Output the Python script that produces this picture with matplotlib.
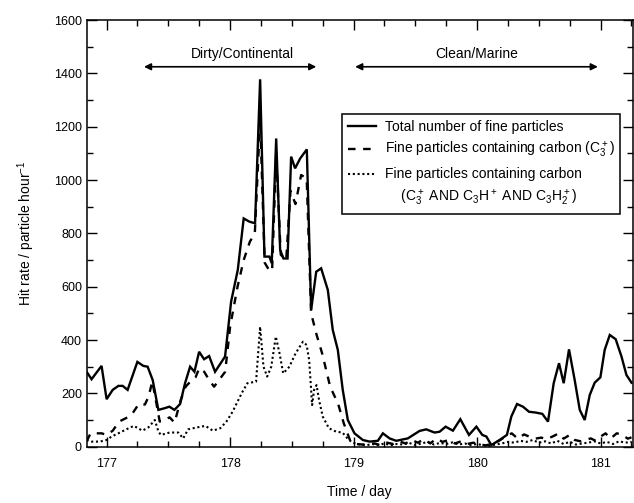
import matplotlib
matplotlib.use('Agg')
import matplotlib.pyplot as plt
from matplotlib.lines import Line2D
from matplotlib.ticker import MultipleLocator

plt.rcParams['font.family'] = ['Liberation Sans', 'DejaVu Sans']
plt.rcParams['mathtext.default'] = 'regular'

# total number of fine particles
total_day = [176.838, 176.878, 176.959, 177.000, 177.049, 177.095, 177.130, 177.170, 177.249, 177.297,
             177.332, 177.373, 177.419, 177.468, 177.508, 177.549, 177.595, 177.635, 177.676, 177.711,
             177.749, 177.789, 177.830, 177.878, 177.959, 178.008, 178.062, 178.110, 178.156, 178.202,
             178.243, 178.278, 178.318, 178.337, 178.373, 178.405, 178.432, 178.465, 178.494, 178.526,
             178.567, 178.621, 178.656, 178.697, 178.737, 178.791, 178.831, 178.872, 178.912, 178.953,
             179.007, 179.075, 179.129, 179.196, 179.237, 179.291, 179.345, 179.439, 179.534, 179.588,
             179.655, 179.696, 179.745, 179.804, 179.864, 179.934, 179.994, 180.042, 180.075, 180.115,
             180.182, 180.241, 180.277, 180.323, 180.371, 180.420, 180.474, 180.528, 180.574, 180.620,
             180.663, 180.701, 180.744, 180.790, 180.831, 180.871, 180.912, 180.952, 180.998, 181.033,
             181.074, 181.122, 181.169, 181.209, 181.250]
total_rate = [281, 253, 303, 178, 213, 228, 228, 213, 318, 303,
              300, 250, 138, 144, 150, 138, 160, 238, 300, 281,
              356, 328, 340, 281, 338, 544, 663, 856, 844, 838,
              1378, 713, 713, 688, 1156, 738, 706, 706, 1088, 1044,
              1081, 1115, 513, 656, 669, 588, 438, 363, 213, 100,
              50, 25, 19, 22, 50, 31, 22, 31, 59, 65,
              53, 56, 75, 60, 103, 44, 75, 44, 38, 6,
              25, 44, 113, 160, 150, 131, 128, 123, 94, 238,
              313, 238, 365, 250, 138, 100, 194, 240, 260, 363,
              419, 403, 338, 269, 240]

# fine particles containing carbon (C3+)
c3_day = [176.838, 176.87, 176.96, 177.0, 177.05, 177.10, 177.17, 177.21, 177.26, 177.31,
          177.34, 177.37, 177.40, 177.43, 177.47, 177.51, 177.55, 177.60, 177.64, 177.68,
          177.72, 177.75, 177.79, 177.83, 177.87, 177.92, 177.96, 178.00, 178.06, 178.11,
          178.16, 178.20, 178.243, 178.28, 178.318, 178.34, 178.373, 178.41, 178.454, 178.489,
          178.529, 178.575, 178.62, 178.656, 178.70, 178.745, 178.81, 178.875, 178.92, 178.97,
          179.02, 179.07, 179.12, 179.17, 179.22, 179.27, 179.32, 179.37, 179.42, 179.47,
          179.52, 179.57, 179.62, 179.67, 179.72, 179.77, 179.82, 179.87, 179.92, 179.97,
          180.02, 180.07, 180.12, 180.17, 180.22, 180.28, 180.33, 180.38, 180.42, 180.47,
          180.52, 180.56, 180.62, 180.66, 180.70, 180.75, 180.79, 180.84, 180.88, 180.92,
          180.96, 181.0, 181.04, 181.08, 181.13, 181.17, 181.22, 181.25]
c3_rate = [20, 50, 50, 44, 60, 94, 110, 125, 160, 158,
           188, 245, 170, 94, 100, 110, 90, 175, 225, 245,
           260, 294, 281, 250, 225, 256, 281, 450, 600, 700,
           769, 800, 1230, 690, 660, 660, 1100, 720, 700, 960,
           910, 1019, 1006, 500, 420, 350, 225, 160, 88, 25,
           10, 8, 10, 12, 5, 15, 10, 20, 12, 25,
           15, 28, 12, 30, 18, 25, 12, 20, 10, 15,
           8, 5, 10, 20, 35, 50, 30, 46, 38, 30,
           34, 28, 40, 50, 30, 44, 25, 20, 25, 31,
           22, 38, 50, 30, 50, 46, 30, 35]

# fine particles containing carbon (C3+ AND C3H+ AND C3H2+)
c3h_day = [176.838, 176.878, 176.945, 177.0, 177.04, 177.095, 177.16, 177.22, 177.29, 177.34,
           177.39, 177.42, 177.44, 177.51, 177.58, 177.62, 177.66, 177.74, 177.80, 177.86,
           177.92, 177.97, 178.02, 178.06, 178.10, 178.14, 178.21, 178.243, 178.27, 178.30,
           178.333, 178.37, 178.40, 178.43, 178.48, 178.53, 178.59, 178.62, 178.64, 178.664,
           178.68, 178.70, 178.72, 178.75, 178.80, 178.86, 178.91, 178.95, 178.99, 179.05,
           179.1, 179.15, 179.2, 179.25, 179.3, 179.35, 179.4, 179.45, 179.5, 179.55,
           179.6, 179.65, 179.7, 179.75, 179.8, 179.85, 179.9, 179.95, 180.0, 180.05,
           180.1, 180.15, 180.2, 180.25, 180.3, 180.35, 180.4, 180.45, 180.5, 180.55,
           180.6, 180.65, 180.7, 180.75, 180.8, 180.85, 180.9, 180.95, 181.0, 181.05,
           181.1, 181.15, 181.2, 181.25]
c3h_rate = [25, 19, 19, 25, 38, 50, 65, 78, 60, 73,
            100, 56, 44, 53, 53, 31, 65, 73, 78, 60,
            69, 94, 131, 169, 206, 238, 244, 450, 300, 263,
            300, 413, 350, 275, 300, 350, 394, 381, 325, 156,
            213, 231, 175, 113, 69, 56, 53, 31, 15, 8,
            5, 10, 6, 12, 5, 10, 8, 14, 6, 12,
            18, 8, 14, 10, 16, 8, 12, 6, 10, 5,
            3, 8, 12, 18, 15, 22, 18, 25, 15, 20,
            12, 22, 10, 18, 8, 12, 15, 20, 12, 18,
            10, 20, 15, 18]

labels = ['Total number of fine particles',
          'Fine particles containing carbon (C$_3^+$)',
          'Fine particles containing carbon',
          '    (C$_3^+$ AND C$_3$H$^+$ AND C$_3$H$_2^+$)']

fig = plt.figure(figsize=(6.34, 5.03), dpi=100)
ax = fig.add_axes([0.137, 0.112, 0.861, 0.848])

l1, = ax.plot(total_day, total_rate, color='black', lw=1.7, solid_joinstyle='miter')
l2, = ax.plot(c3_day, c3_rate, color='black', lw=1.7, dashes=(3.2, 3.2))
l3, = ax.plot(c3h_day, c3h_rate, color='black', lw=1.5, dashes=(1, 1.3))

ax.set_xlim(176.84, 181.26)
ax.set_ylim(0, 1600)
ax.xaxis.set_major_locator(MultipleLocator(1))
ax.xaxis.set_minor_locator(MultipleLocator(0.25))
ax.yaxis.set_major_locator(MultipleLocator(200))
ax.yaxis.set_minor_locator(MultipleLocator(100))
ax.tick_params(which='both', direction='in', top=True, right=True, labelsize=9, width=1)
ax.tick_params(which='major', length=7)
ax.tick_params(which='minor', length=4.5)
ax.tick_params(axis='x', which='major', pad=8)
for s in ax.spines.values():
    s.set_linewidth(1.1)

ax.set_xlabel('Time / day', fontsize=10, labelpad=11)
ax.set_ylabel('Hit rate / particle hour$^{-1}$', fontsize=10, labelpad=12)

# period arrows
ax.annotate('', xy=(177.28, 1425), xytext=(178.72, 1425),
            arrowprops=dict(arrowstyle='<|-|>', color='black', lw=1.2, mutation_scale=10))
ax.text(178.10, 1445, 'Dirty/Continental', ha='center', va='bottom', fontsize=10)
ax.annotate('', xy=(178.99, 1425), xytext=(181.0, 1425),
            arrowprops=dict(arrowstyle='<|-|>', color='black', lw=1.2, mutation_scale=10))
ax.text(180.0, 1445, 'Clean/Marine', ha='center', va='bottom', fontsize=10)

blank = Line2D([], [], linestyle='none')
leg = ax.legend([l1, l2, l3, blank], labels, loc='upper left', bbox_to_anchor=(0.468, 0.78),
                borderaxespad=0, fancybox=False, edgecolor='black', framealpha=1,
                fontsize=10, handlelength=2.0, handletextpad=0.65, labelspacing=0.5,
                borderpad=0.4)
leg.get_frame().set_linewidth(1.1)

fig.savefig('out.png', dpi=100)
